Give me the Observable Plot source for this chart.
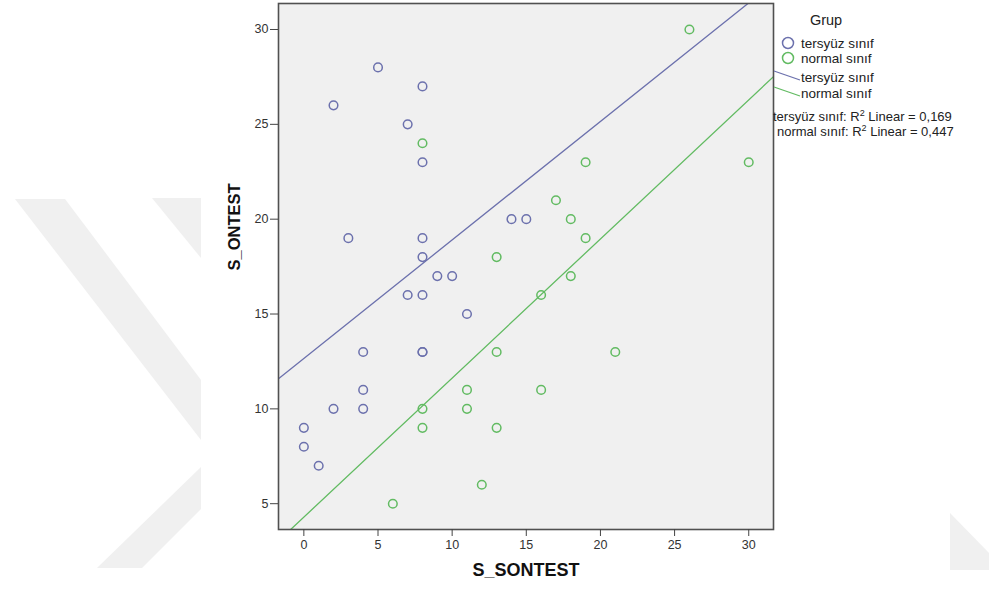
<!DOCTYPE html>
<html><head><meta charset="utf-8">
<script src="https://cdn.jsdelivr.net/npm/d3@7"></script>
<script src="https://cdn.jsdelivr.net/npm/@observablehq/plot@0.6"></script>
<style>
body{margin:0;background:#fff;font-family:"Liberation Sans",Arial,sans-serif;}
#wrap{position:relative;width:989px;height:590px;overflow:hidden;}
#bg,#chart,#legend{position:absolute;top:0;}
#bg{left:0;}
#chart{left:0;}
#legend{left:771px;width:210px;height:150px;}
</style></head><body>
<div id="wrap">
<svg id="bg" width="989" height="590">
  <g fill="#f0f0f0">
    <polygon points="15,199 65,199 201,380 201,440"/>
    <polygon points="152,198 201,198 201,258"/>
    <polygon points="97,568 142,568 201,509 201,467"/>
    <polygon points="950,513 989,553 989,570 950,570"/>
  </g>
  <rect x="201" y="0" width="749" height="572" fill="#fff"/>
</svg>
<div id="chart"></div>
<div id="legend"></div>
</div>
<script>
// ---- data ----
const groups = ["tersyüz sınıf", "normal sınıf"];
const tersX = [0, 0, 1, 2, 2, 3, 4, 4, 4, 5, 7, 7, 8, 8, 8, 8, 8, 8, 8, 9, 10, 11, 14, 15];
const tersY = [9, 8, 7, 10, 26, 19, 13, 11, 10, 28, 25, 16, 27, 23, 19, 18, 16, 13, 13, 17, 17, 15, 20, 20];
const normX = [6, 8, 8, 8, 11, 11, 12, 13, 13, 13, 16, 16, 17, 18, 18, 19, 19, 21, 26, 30];
const normY = [5, 24, 10, 9, 11, 10, 6, 18, 13, 9, 16, 11, 21, 20, 17, 23, 19, 13, 30, 23];
const r2Values = ["0,169", "0,447"];
const xTicks = [0, 5, 10, 15, 20, 25, 30];
const yTicks = [5, 10, 15, 20, 25, 30];
const xLabel = "S_SONTEST";
const yLabel = "S_ONTEST";
const legendTitle = "Grup";

const colors = ["#6c71ad", "#62bb62"];
const xDomain = [-1.71, 31.67];
const yDomain = [3.64, 31.37];

const pts = [
  ...tersX.map((x, i) => ({x, y: tersY[i], g: groups[0]})),
  ...normX.map((x, i) => ({x, y: normY[i], g: groups[1]}))
];

function fit(xs, ys) {
  const mx = d3.mean(xs), my = d3.mean(ys);
  const sxy = d3.sum(xs, (x, i) => (x - mx) * (ys[i] - my));
  const sxx = d3.sum(xs, x => (x - mx) ** 2);
  const b = sxy / sxx;
  return {a: my - b * mx, b};
}
const fits = [fit(tersX, tersY), fit(normX, normY)];
const lineData = fits.flatMap((f, k) => xDomain.map(x => ({x, y: f.a + f.b * x, g: groups[k]})));

const chart = Plot.plot({
  width: 989, height: 590,
  marginLeft: 278, marginRight: 216, marginTop: 3, marginBottom: 61,
  x: {domain: xDomain},
  y: {domain: yDomain},
  color: {domain: groups, range: colors},
  style: {fontFamily: "'Liberation Sans', Arial, sans-serif", fontSize: "12px", color: "#333", background: "transparent", overflow: "visible"},
  marks: [
    Plot.frame({fill: "#f0f0f0"}),
    Plot.line(lineData, {x: "x", y: "y", z: "g", stroke: "g", strokeWidth: 1.3, clip: true}),
    Plot.dot(pts, {x: "x", y: "y", stroke: "g", r: 4.3, strokeWidth: 1.5}),
    Plot.frame({stroke: "#505050", strokeWidth: 1.6}),
    Plot.axisX({ticks: xTicks, tickSize: 7, tickPadding: 4, label: null, stroke: "#444", fill: "#333", fontSize: 12.5}),
    Plot.axisY({ticks: yTicks, tickSize: 8, tickPadding: 2, label: null, stroke: "#444", fill: "#333", fontSize: 12.5}),
    Plot.text([xLabel], {frameAnchor: "bottom", dy: 46, text: d => d, fontWeight: "bold", fontSize: 18, fill: "#111"}),
    Plot.text([yLabel], {frameAnchor: "left", dx: -44, dy: 4, rotate: -90, text: d => d, fontWeight: "bold", fontSize: 16.5, fill: "#111"})
  ]
});
document.getElementById("chart").appendChild(chart);

// ---- legend ----
const lg = d3.select("#legend").append("svg").attr("width", 210).attr("height", 150)
  .style("font-family", "'Liberation Sans', Arial, sans-serif");
lg.append("text").attr("x", 55).attr("y", 25).attr("text-anchor", "middle").attr("font-size", 14.5).attr("fill", "#222").text(legendTitle);
groups.forEach((g, i) => {
  const cy = 43 + i * 15;
  lg.append("circle").attr("cx", 17).attr("cy", cy).attr("r", 5.5).attr("fill", "none").attr("stroke", colors[i]).attr("stroke-width", 1.5);
  lg.append("text").attr("x", 30).attr("y", cy + 5).attr("font-size", 13.5).attr("fill", "#222").text(g);
});
groups.forEach((g, i) => {
  const y0 = 71 + i * 16;
  lg.append("line").attr("x1", 3).attr("y1", y0).attr("x2", 29).attr("y2", y0 + 9).attr("stroke", colors[i]).attr("stroke-width", 1.3);
  lg.append("text").attr("x", 30).attr("y", y0 + 11).attr("font-size", 13.5).attr("fill", "#222").text(g);
});
groups.forEach((g, i) => {
  const t = lg.append("text").attr("x", i === 0 ? 2 : 6).attr("y", 121 + i * 15).attr("font-size", 13).attr("fill", "#222");
  t.append("tspan").text(g + ": R");
  t.append("tspan").attr("dy", -5).attr("font-size", 9).text("2");
  t.append("tspan").attr("dy", 5).text(" Linear = " + r2Values[i]);
});
</script>
</body></html>
